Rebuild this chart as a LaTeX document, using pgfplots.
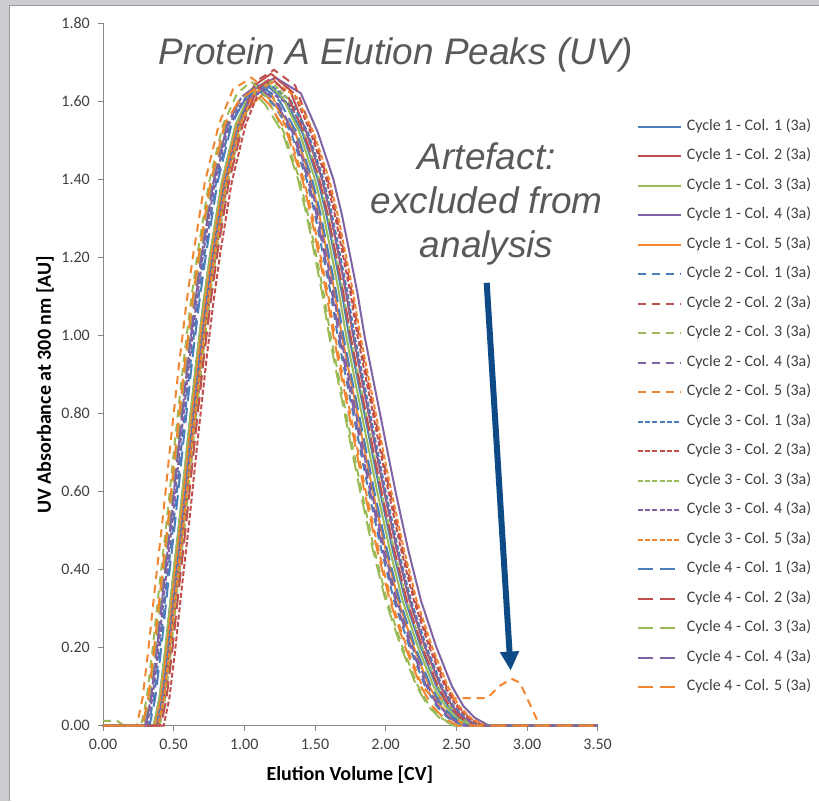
\documentclass[border=0pt]{standalone}
\usepackage{fontspec}
\setmainfont{Carlito}
\newfontfamily\arialfont{Liberation Sans}
\usepackage{pgfplots}
\pgfplotsset{compat=1.18}
\usetikzlibrary{arrows.meta}

\definecolor{cblue}{HTML}{4A7EBB}
\definecolor{cred}{HTML}{C0504D}
\definecolor{cgreen}{HTML}{9BBB59}
\definecolor{cpurple}{HTML}{7F63A5}
\definecolor{corange}{HTML}{F28530}
\definecolor{axgray}{HTML}{868686}
\definecolor{txtgray}{HTML}{404040}
\definecolor{titlegray}{HTML}{595959}
\definecolor{arrowblue}{HTML}{0D4A86}
\definecolor{framegray}{HTML}{CBCDD1}
\definecolor{frameline}{HTML}{9A9A9A}

\tikzset{
  cyc1/.style={solid},
  cyc2/.style={dash pattern=on 8pt off 6pt},
  cyc3/.style={dash pattern=on 5pt off 2.3pt},
  cyc4/.style={dash pattern=on 15pt off 7pt},
}

\begin{document}
\begin{tikzpicture}
% screenshot frame
\fill[framegray] (0,0) rectangle (819pt,801pt);
\fill[white] (10pt,0) rectangle (819pt,795pt);
\draw[frameline, line width=1pt] (10pt,0) -- (10pt,795pt) -- (819pt,795pt);
\useasboundingbox (0,0) rectangle (819pt,801pt);

\begin{axis}[
    at={(103pt,75pt)}, anchor=south west,
    scale only axis,
    width=495pt, height=703pt,
    xmin=0, xmax=3.5,
    ymin=0, ymax=1.8,
    xtick={0,0.5,1,1.5,2,2.5,3,3.5},
    ytick={0,0.2,0.4,0.6,0.8,1,1.2,1.4,1.6,1.8},
    axis x line*=bottom,
    axis y line*=left,
    axis line style={axgray, line width=0.8pt},
    every tick/.style={axgray, line width=0.8pt},
    tick align=outside,
    major tick length=5pt,
    clip=false,
    scaled ticks=false,
    tick label style={font=\fontsize{16}{19}\selectfont, text=txtgray, inner sep=0pt,
      /pgf/number format/fixed, /pgf/number format/fixed zerofill,
      /pgf/number format/precision=2, /pgf/number format/assume math mode=true},
    xticklabel style={anchor=north, yshift=-8pt},
    yticklabel style={anchor=east, xshift=-8pt},
    every axis x label/.style={at={(axis description cs:0.499,-0.0697)}, anchor=center},
    every axis y label/.style={at={(axis description cs:-0.117,0.485)}, rotate=90, anchor=center},
    label style={font=\bfseries\fontsize{20}{24}\selectfont, text=black},
    xlabel={Elution Volume [CV]},
    ylabel={UV Absorbance at 300 nm [AU]},
    every axis plot/.append style={line width=2pt},
    legend image code/.code={\draw[#1] (0pt,0pt) -- (43pt,0pt);},
    legend cell align=left,
    legend style={at={(axis description cs:1.0788,0.8634)}, anchor=north west,
      draw=none, fill=none, inner sep=0pt, row sep=14.53pt, column sep=5pt,
      font=\fontsize{16}{19}\selectfont, text=txtgray,
      nodes={inner sep=0pt, text height=11pt, text depth=4pt}},
]

% Cycle 1
\addplot[cblue, cyc1] coordinates {(0,0)(0.36,0)(0.40,0.07)(0.44,0.19)(0.49,0.36)(0.54,0.52)(0.60,0.73)(0.66,0.93)(0.71,1.08)(0.76,1.21)(0.84,1.39)(0.94,1.54)(1.04,1.61)(1.16,1.64)(1.29,1.60)(1.41,1.52)(1.52,1.40)(1.58,1.31)(1.63,1.22)(1.69,1.11)(1.74,1.00)(1.80,0.89)(1.85,0.80)(1.91,0.69)(1.96,0.60)(2.05,0.45)(2.14,0.32)(2.25,0.20)(2.36,0.10)(2.44,0.05)(2.52,0.02)(2.62,0)(3.5,0)};
\addlegendentry{Cycle 1 - Col. 1 (3a)}
\addplot[cred, cyc1] coordinates {(0,0)(0.39,0)(0.43,0.07)(0.47,0.19)(0.52,0.36)(0.57,0.52)(0.63,0.73)(0.69,0.93)(0.74,1.08)(0.79,1.21)(0.87,1.39)(0.97,1.54)(1.07,1.64)(1.19,1.67)(1.32,1.63)(1.44,1.52)(1.55,1.40)(1.61,1.31)(1.66,1.22)(1.72,1.11)(1.77,1.00)(1.83,0.89)(1.88,0.80)(1.94,0.69)(1.99,0.60)(2.08,0.45)(2.17,0.32)(2.28,0.20)(2.39,0.10)(2.47,0.05)(2.55,0.02)(2.65,0)(3.5,0)};
\addlegendentry{Cycle 1 - Col. 2 (3a)}
\addplot[cgreen, cyc1] coordinates {(0,0)(0.36,0)(0.40,0.07)(0.44,0.19)(0.49,0.36)(0.54,0.52)(0.60,0.73)(0.66,0.93)(0.71,1.08)(0.76,1.21)(0.84,1.39)(0.94,1.54)(1.04,1.62)(1.15,1.65)(1.27,1.61)(1.39,1.52)(1.50,1.40)(1.56,1.31)(1.61,1.22)(1.67,1.11)(1.72,1.00)(1.78,0.89)(1.83,0.80)(1.89,0.69)(1.94,0.60)(2.03,0.45)(2.12,0.32)(2.23,0.20)(2.34,0.10)(2.42,0.05)(2.50,0.02)(2.60,0)(3.5,0)};
\addlegendentry{Cycle 1 - Col. 3 (3a)}
\addplot[cpurple, cyc1] coordinates {(0,0)(0.38,0)(0.42,0.07)(0.46,0.19)(0.51,0.36)(0.56,0.52)(0.62,0.73)(0.68,0.93)(0.73,1.08)(0.78,1.21)(0.86,1.39)(0.96,1.54)(1.06,1.63)(1.22,1.66)(1.40,1.62)(1.52,1.52)(1.63,1.40)(1.69,1.31)(1.74,1.22)(1.80,1.11)(1.85,1.00)(1.91,0.89)(1.96,0.80)(2.02,0.69)(2.07,0.60)(2.16,0.45)(2.25,0.32)(2.36,0.20)(2.47,0.10)(2.55,0.05)(2.63,0.02)(2.73,0)(3.5,0)};
\addlegendentry{Cycle 1 - Col. 4 (3a)}
\addplot[corange, cyc1] coordinates {(0,0)(0.37,0)(0.41,0.07)(0.45,0.19)(0.50,0.36)(0.55,0.52)(0.61,0.73)(0.67,0.93)(0.72,1.08)(0.77,1.21)(0.85,1.39)(0.95,1.54)(1.05,1.59)(1.14,1.62)(1.24,1.58)(1.36,1.52)(1.47,1.40)(1.53,1.31)(1.58,1.22)(1.64,1.11)(1.69,1.00)(1.75,0.89)(1.80,0.80)(1.86,0.69)(1.91,0.60)(2.00,0.45)(2.09,0.32)(2.20,0.20)(2.31,0.10)(2.39,0.05)(2.47,0.02)(2.57,0)(3.5,0)};
\addlegendentry{Cycle 1 - Col. 5 (3a)}

% Cycle 2
\addplot[cblue, cyc2] coordinates {(0,0)(0.32,0)(0.36,0.07)(0.40,0.19)(0.45,0.36)(0.50,0.52)(0.56,0.73)(0.62,0.93)(0.67,1.08)(0.72,1.21)(0.80,1.39)(0.90,1.54)(1.00,1.60)(1.10,1.63)(1.21,1.59)(1.33,1.52)(1.44,1.40)(1.50,1.31)(1.55,1.22)(1.61,1.11)(1.66,1.00)(1.72,0.89)(1.77,0.80)(1.83,0.69)(1.88,0.60)(1.97,0.45)(2.06,0.32)(2.17,0.20)(2.28,0.10)(2.36,0.05)(2.44,0.02)(2.54,0)(3.5,0)};
\addlegendentry{Cycle 2 - Col. 1 (3a)}
\addplot[cred, cyc2] coordinates {(0,0)(0.40,0)(0.44,0.07)(0.48,0.19)(0.53,0.36)(0.58,0.52)(0.64,0.73)(0.70,0.93)(0.75,1.08)(0.80,1.21)(0.88,1.39)(0.98,1.54)(1.08,1.65)(1.21,1.68)(1.36,1.64)(1.48,1.52)(1.59,1.40)(1.65,1.31)(1.70,1.22)(1.76,1.11)(1.81,1.00)(1.87,0.89)(1.92,0.80)(1.98,0.69)(2.03,0.60)(2.12,0.45)(2.21,0.32)(2.32,0.20)(2.43,0.10)(2.51,0.05)(2.59,0.02)(2.69,0)(3.5,0)};
\addlegendentry{Cycle 2 - Col. 2 (3a)}
\addplot[cgreen, cyc2] coordinates {(0,0.012)(0.10,0.012)(0.15,0)(0.27,0)(0.31,0.07)(0.35,0.19)(0.40,0.36)(0.45,0.52)(0.51,0.73)(0.57,0.93)(0.62,1.08)(0.67,1.21)(0.75,1.39)(0.85,1.54)(0.95,1.62)(1.05,1.65)(1.16,1.61)(1.28,1.52)(1.39,1.40)(1.45,1.31)(1.50,1.22)(1.56,1.11)(1.61,1.00)(1.67,0.89)(1.72,0.80)(1.78,0.69)(1.83,0.60)(1.92,0.45)(2.01,0.32)(2.12,0.20)(2.23,0.10)(2.31,0.05)(2.39,0.02)(2.49,0)(3.5,0)};
\addlegendentry{Cycle 2 - Col. 3 (3a)}
\addplot[cpurple, cyc2] coordinates {(0,0)(0.30,0)(0.34,0.07)(0.38,0.19)(0.43,0.36)(0.48,0.52)(0.54,0.73)(0.60,0.93)(0.65,1.08)(0.70,1.21)(0.78,1.39)(0.88,1.54)(0.98,1.61)(1.10,1.64)(1.23,1.60)(1.35,1.52)(1.46,1.40)(1.52,1.31)(1.57,1.22)(1.63,1.11)(1.68,1.00)(1.74,0.89)(1.79,0.80)(1.85,0.69)(1.90,0.60)(1.99,0.45)(2.08,0.32)(2.19,0.20)(2.30,0.10)(2.38,0.05)(2.46,0.02)(2.56,0)(3.5,0)};
\addlegendentry{Cycle 2 - Col. 4 (3a)}
\addplot[corange, cyc2] coordinates {(0,0)(0.24,0)(0.28,0.07)(0.32,0.19)(0.37,0.36)(0.42,0.52)(0.48,0.73)(0.54,0.93)(0.59,1.08)(0.64,1.21)(0.72,1.39)(0.82,1.54)(0.92,1.63)(1.05,1.66)(1.19,1.62)(1.31,1.52)(1.42,1.40)(1.48,1.31)(1.53,1.22)(1.59,1.11)(1.64,1.00)(1.70,0.89)(1.75,0.80)(1.81,0.69)(1.86,0.60)(1.95,0.45)(2.04,0.32)(2.15,0.20)(2.26,0.10)(2.34,0.07)(2.55,0.07)(2.72,0.07)(2.80,0.10)(2.89,0.12)(2.95,0.11)(3.09,0)(3.5,0)};
\addlegendentry{Cycle 2 - Col. 5 (3a)}

% Cycle 3
\addplot[cblue, cyc3] coordinates {(0,0)(0.38,0)(0.42,0.07)(0.46,0.19)(0.51,0.36)(0.56,0.52)(0.62,0.73)(0.68,0.93)(0.73,1.08)(0.78,1.21)(0.86,1.39)(0.96,1.54)(1.06,1.61)(1.19,1.64)(1.33,1.60)(1.45,1.52)(1.56,1.40)(1.62,1.31)(1.67,1.22)(1.73,1.11)(1.78,1.00)(1.84,0.89)(1.89,0.80)(1.95,0.69)(2.00,0.60)(2.09,0.45)(2.18,0.32)(2.29,0.20)(2.40,0.10)(2.48,0.05)(2.56,0.02)(2.66,0)(3.5,0)};
\addlegendentry{Cycle 3 - Col. 1 (3a)}
\addplot[cred, cyc3] coordinates {(0,0)(0.43,0)(0.47,0.07)(0.51,0.19)(0.56,0.36)(0.61,0.52)(0.67,0.73)(0.73,0.93)(0.78,1.08)(0.83,1.21)(0.91,1.39)(1.01,1.54)(1.11,1.63)(1.22,1.66)(1.35,1.62)(1.47,1.52)(1.58,1.40)(1.64,1.31)(1.69,1.22)(1.75,1.11)(1.80,1.00)(1.86,0.89)(1.91,0.80)(1.97,0.69)(2.02,0.60)(2.11,0.45)(2.20,0.32)(2.31,0.20)(2.42,0.10)(2.50,0.05)(2.58,0.02)(2.68,0)(3.5,0)};
\addlegendentry{Cycle 3 - Col. 2 (3a)}
\addplot[cgreen, cyc3] coordinates {(0,0)(0.40,0)(0.44,0.07)(0.48,0.19)(0.53,0.36)(0.58,0.52)(0.64,0.73)(0.70,0.93)(0.75,1.08)(0.80,1.21)(0.88,1.39)(0.98,1.54)(1.08,1.62)(1.19,1.65)(1.30,1.61)(1.42,1.52)(1.53,1.40)(1.59,1.31)(1.64,1.22)(1.70,1.11)(1.75,1.00)(1.81,0.89)(1.86,0.80)(1.92,0.69)(1.97,0.60)(2.06,0.45)(2.15,0.32)(2.26,0.20)(2.37,0.10)(2.45,0.05)(2.53,0.02)(2.63,0)(3.5,0)};
\addlegendentry{Cycle 3 - Col. 3 (3a)}
\addplot[cpurple, cyc3] coordinates {(0,0)(0.31,0)(0.35,0.07)(0.39,0.19)(0.44,0.36)(0.49,0.52)(0.55,0.73)(0.61,0.93)(0.66,1.08)(0.71,1.21)(0.79,1.39)(0.89,1.54)(0.99,1.60)(1.15,1.63)(1.32,1.59)(1.44,1.52)(1.55,1.40)(1.61,1.31)(1.66,1.22)(1.72,1.11)(1.77,1.00)(1.83,0.89)(1.88,0.80)(1.94,0.69)(1.99,0.60)(2.08,0.45)(2.17,0.32)(2.28,0.20)(2.39,0.10)(2.47,0.05)(2.55,0.02)(2.65,0)(3.5,0)};
\addlegendentry{Cycle 3 - Col. 4 (3a)}
\addplot[corange, cyc3] coordinates {(0,0)(0.39,0)(0.43,0.07)(0.47,0.19)(0.52,0.36)(0.57,0.52)(0.63,0.73)(0.69,0.93)(0.74,1.08)(0.79,1.21)(0.87,1.39)(0.97,1.54)(1.07,1.62)(1.21,1.65)(1.37,1.61)(1.49,1.52)(1.60,1.40)(1.66,1.31)(1.71,1.22)(1.77,1.11)(1.82,1.00)(1.88,0.89)(1.93,0.80)(1.99,0.69)(2.04,0.60)(2.13,0.45)(2.22,0.32)(2.33,0.20)(2.44,0.10)(2.52,0.05)(2.60,0.02)(2.70,0)(3.5,0)};
\addlegendentry{Cycle 3 - Col. 5 (3a)}

% Cycle 4
\addplot[cblue, cyc4] coordinates {(0,0)(0.33,0)(0.37,0.07)(0.41,0.19)(0.46,0.36)(0.51,0.52)(0.57,0.73)(0.63,0.93)(0.68,1.08)(0.73,1.21)(0.81,1.39)(0.91,1.54)(1.01,1.61)(1.12,1.64)(1.25,1.60)(1.37,1.52)(1.48,1.40)(1.54,1.31)(1.59,1.22)(1.65,1.11)(1.70,1.00)(1.76,0.89)(1.81,0.80)(1.87,0.69)(1.92,0.60)(2.01,0.45)(2.10,0.32)(2.21,0.20)(2.32,0.10)(2.40,0.05)(2.48,0.02)(2.58,0)(3.5,0)};
\addlegendentry{Cycle 4 - Col. 1 (3a)}
\addplot[cred, cyc4] coordinates {(0,0)(0.41,0)(0.45,0.07)(0.49,0.19)(0.54,0.36)(0.59,0.52)(0.65,0.73)(0.71,0.93)(0.76,1.08)(0.81,1.21)(0.89,1.39)(0.99,1.54)(1.09,1.63)(1.19,1.66)(1.30,1.62)(1.42,1.52)(1.53,1.40)(1.59,1.31)(1.64,1.22)(1.70,1.11)(1.75,1.00)(1.81,0.89)(1.86,0.80)(1.92,0.69)(1.97,0.60)(2.06,0.45)(2.15,0.32)(2.26,0.20)(2.37,0.10)(2.45,0.05)(2.53,0.02)(2.63,0)(3.5,0)};
\addlegendentry{Cycle 4 - Col. 2 (3a)}
\addplot[cgreen, cyc4] coordinates {(0,0)(0.29,0)(0.33,0.07)(0.37,0.19)(0.42,0.36)(0.47,0.52)(0.53,0.73)(0.59,0.93)(0.64,1.08)(0.69,1.21)(0.77,1.39)(0.87,1.54)(0.97,1.60)(1.05,1.63)(1.15,1.59)(1.27,1.52)(1.38,1.40)(1.44,1.31)(1.49,1.22)(1.55,1.11)(1.60,1.00)(1.66,0.89)(1.71,0.80)(1.77,0.69)(1.82,0.60)(1.91,0.45)(2.00,0.32)(2.11,0.20)(2.22,0.10)(2.30,0.05)(2.38,0.02)(2.48,0)(3.5,0)};
\addlegendentry{Cycle 4 - Col. 3 (3a)}
\addplot[cpurple, cyc4] coordinates {(0,0)(0.30,0)(0.34,0.07)(0.38,0.19)(0.43,0.36)(0.48,0.52)(0.54,0.73)(0.60,0.93)(0.65,1.08)(0.70,1.21)(0.78,1.39)(0.88,1.54)(0.98,1.61)(1.09,1.64)(1.22,1.60)(1.34,1.52)(1.45,1.40)(1.51,1.31)(1.56,1.22)(1.62,1.11)(1.67,1.00)(1.73,0.89)(1.78,0.80)(1.84,0.69)(1.89,0.60)(1.98,0.45)(2.07,0.32)(2.18,0.20)(2.29,0.10)(2.37,0.05)(2.45,0.02)(2.55,0)(3.5,0)};
\addlegendentry{Cycle 4 - Col. 4 (3a)}
\addplot[corange, cyc4] coordinates {(0,0)(0.28,0)(0.32,0.07)(0.36,0.19)(0.41,0.36)(0.46,0.52)(0.52,0.73)(0.58,0.93)(0.63,1.08)(0.68,1.21)(0.76,1.39)(0.86,1.54)(0.96,1.60)(1.07,1.63)(1.18,1.59)(1.30,1.52)(1.41,1.40)(1.47,1.31)(1.52,1.22)(1.58,1.11)(1.63,1.00)(1.69,0.89)(1.74,0.80)(1.80,0.69)(1.85,0.60)(1.94,0.45)(2.03,0.32)(2.14,0.20)(2.25,0.10)(2.33,0.05)(2.41,0.02)(2.51,0)(3.5,0)};
\addlegendentry{Cycle 4 - Col. 5 (3a)}
\end{axis}

% title and annotation
\node[font=\arialfont\itshape\fontsize{37}{45}\selectfont, text=titlegray] at (396pt,746pt) {Protein A Elution Peaks (UV)};
\node[font=\arialfont\itshape\fontsize{37}{44}\selectfont, text=titlegray, align=center] at (487pt,597pt) {Artefact:\\excluded from\\analysis};
\draw[arrowblue, line width=6pt, -{Triangle[width=18pt,length=19pt]}] (487pt,518pt) -- (511pt,130pt);
\end{tikzpicture}
\end{document}
